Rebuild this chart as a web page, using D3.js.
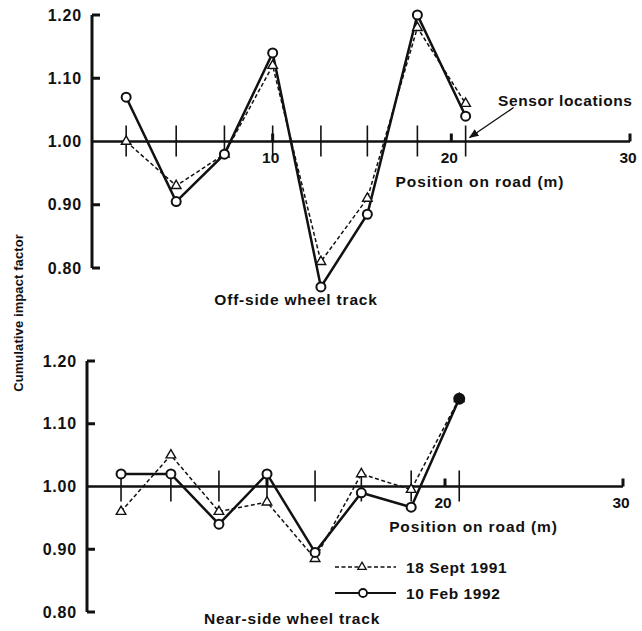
<!DOCTYPE html>
<html>
<head>
<meta charset="utf-8">
<script src="https://cdn.jsdelivr.net/npm/d3@7"></script>
<style>
  body { margin: 0; background: #fff; }
  text { font-family: "Liberation Sans", Arial, sans-serif; fill: #111; font-weight: bold; }
</style>
</head>
<body>
<svg id="chart" width="642" height="631"></svg>
<script>
// sensor positions along the road (m)
var sensors = [1.8, 4.6, 7.3, 10.0, 12.7, 15.3, 18.1, 20.8];
var xTicks = [10, 20, 30];
var yTicks = [0.80, 0.90, 1.00, 1.10, 1.20];

// off-side wheel track
var offSept91 = [1.00, 0.93, 0.98, 1.12, 0.81, 0.91, 1.18, 1.06];
var offFeb92  = [1.07, 0.905, 0.98, 1.14, 0.77, 0.885, 1.20, 1.04];

// near-side wheel track
var nearSept91 = [0.96, 1.05, 0.96, 0.975, 0.885, 1.02, 0.995, 1.14];
var nearFeb92  = [1.02, 1.02, 0.94, 1.02, 0.895, 0.99, 0.967, 1.14];

var svg = d3.select("#chart");
var ink = "#111";

var drawPanel = function(opts) {
    var x = d3.scaleLinear().domain([0, 30]).range(opts.xr);
    var y = d3.scaleLinear().domain([0.8, 1.2]).range(opts.yr);
    var g = svg.append("g");
    var y0 = y(1.0);
    var ax = x(0) - 2;

    // y axis with inward ticks
    g.append("line").attr("x1", ax).attr("x2", ax)
        .attr("y1", y(1.2)).attr("y2", y(0.8))
        .attr("stroke", ink).attr("stroke-width", 3);
    yTicks.forEach(function(v) {
        if (v !== 1.0) {
            g.append("line").attr("x1", ax).attr("x2", ax + 8)
                .attr("y1", y(v)).attr("y2", y(v))
                .attr("stroke", ink).attr("stroke-width", 3);
        }
        g.append("text").attr("x", ax - 10).attr("y", y(v) + 5.5)
            .attr("text-anchor", "end").attr("font-size", 16)
            .attr("letter-spacing", 0.8)
            .text(v.toFixed(2));
    });

    // road axis at 1.00
    g.append("line").attr("x1", ax).attr("x2", x(30))
        .attr("y1", y0).attr("y2", y0)
        .attr("stroke", ink).attr("stroke-width", 2.5);
    xTicks.forEach(function(v) {
        g.append("line").attr("x1", x(v)).attr("x2", x(v))
            .attr("y1", y0).attr("y2", y0 - 8)
            .attr("stroke", ink).attr("stroke-width", 3);
        if (opts.xLabels.indexOf(v) >= 0) {
            g.append("text").attr("x", x(v) - 2).attr("y", y0 + 21)
                .attr("text-anchor", "middle").attr("font-size", 15.5)
                .text(v);
        }
    });
    // sensor ticks
    sensors.forEach(function(s) {
        g.append("line").attr("x1", x(s)).attr("x2", x(s))
            .attr("y1", y0 - 16).attr("y2", y0 + 15)
            .attr("stroke", ink).attr("stroke-width", 1.6);
    });
    g.append("text").attr("x", x(21.6)).attr("y", y0 + 45)
        .attr("text-anchor", "middle").attr("font-size", 15.5)
        .attr("letter-spacing", 0.9)
        .text("Position on road (m)");
    g.append("text").attr("x", opts.titleX).attr("y", opts.titleY)
        .attr("text-anchor", "middle").attr("font-size", 15.5)
        .attr("letter-spacing", 0.8)
        .text(opts.title);

    var line = d3.line().x(function(d, i) { return x(sensors[i]); })
        .y(function(d) { return y(d); });

    g.append("path").datum(opts.sept).attr("d", line)
        .attr("fill", "none").attr("stroke", ink)
        .attr("stroke-width", 1.5).attr("stroke-dasharray", "4,2.5");
    g.append("path").datum(opts.feb).attr("d", line)
        .attr("fill", "none").attr("stroke", ink).attr("stroke-width", 2.5);

    var tri = d3.symbol().type(d3.symbolTriangle).size(40);
    g.selectAll(".tri").data(opts.sept).enter().append("path")
        .attr("transform", function(d, i) { return "translate(" + x(sensors[i]) + "," + y(d) + ")"; })
        .attr("d", tri).attr("fill", "#fff").attr("stroke", ink).attr("stroke-width", 1.4);
    g.selectAll(".circ").data(opts.feb).enter().append("circle")
        .attr("cx", function(d, i) { return x(sensors[i]); })
        .attr("cy", function(d) { return y(d); })
        .attr("r", function(d, i) { return (opts.filledLast && i === sensors.length - 1) ? 5 : 4.5; })
        .attr("fill", function(d, i) { return (opts.filledLast && i === sensors.length - 1) ? ink : "#fff"; })
        .attr("stroke", ink).attr("stroke-width", 2);

    return { x: x, y: y, g: g };
};

var topPanel = drawPanel({
    xr: [94, 630], yr: [268, 15],
    sept: offSept91, feb: offFeb92, xLabels: [10, 20, 30],
    title: "Off-side wheel track", titleX: 296, titleY: 305
});
var botPanel = drawPanel({
    xr: [89, 623], yr: [612, 361],
    sept: nearSept91, feb: nearFeb92, filledLast: true, xLabels: [20, 30],
    title: "Near-side wheel track", titleX: 292, titleY: 624
});

// sensor locations annotation
var tipX = topPanel.x(sensors[7]) + 4, tipY = topPanel.y(1.0) - 4;
svg.append("defs").append("marker").attr("id", "arr")
    .attr("viewBox", "0 0 10 10").attr("refX", 9).attr("refY", 5)
    .attr("markerWidth", 7).attr("markerHeight", 7).attr("orient", "auto")
    .append("path").attr("d", "M0,1 L10,5 L0,9 Z").attr("fill", ink);
svg.append("line").attr("x1", tipX + 44).attr("y1", tipY - 30)
    .attr("x2", tipX).attr("y2", tipY)
    .attr("stroke", ink).attr("stroke-width", 1.4).attr("marker-end", "url(#arr)");
svg.append("text").attr("x", 498).attr("y", topPanel.y(1.064) + 5)
    .attr("font-size", 15.5).attr("letter-spacing", 0.6)
    .text("Sensor locations");

// y axis title
svg.append("text").attr("transform", "translate(23,313) rotate(-90)")
    .attr("text-anchor", "middle").attr("font-size", 13)
    .attr("letter-spacing", 0.1)
    .text("Cumulative impact factor");

// legend
var lg = svg.append("g");
var legend = [
    { label: "18 Sept 1991", dash: "4,2.5", sym: "tri", y: 567 },
    { label: "10 Feb 1992", dash: null, sym: "circ", y: 593 }
];
legend.forEach(function(d) {
    lg.append("line").attr("x1", 335).attr("x2", 396).attr("y1", d.y).attr("y2", d.y)
        .attr("stroke", ink).attr("stroke-width", d.dash ? 1.5 : 2.2)
        .attr("stroke-dasharray", d.dash);
    if (d.sym === "tri") {
        lg.append("path").attr("transform", "translate(362," + d.y + ")")
            .attr("d", d3.symbol().type(d3.symbolTriangle).size(30))
            .attr("fill", "#fff").attr("stroke", ink).attr("stroke-width", 1.3);
    } else {
        lg.append("circle").attr("cx", 363).attr("cy", d.y).attr("r", 4)
            .attr("fill", "#fff").attr("stroke", ink).attr("stroke-width", 1.8);
    }
    lg.append("text").attr("x", 406).attr("y", d.y + 5.5)
        .attr("font-size", 15.5).attr("letter-spacing", 0.6).text(d.label);
});
</script>
</body>
</html>
